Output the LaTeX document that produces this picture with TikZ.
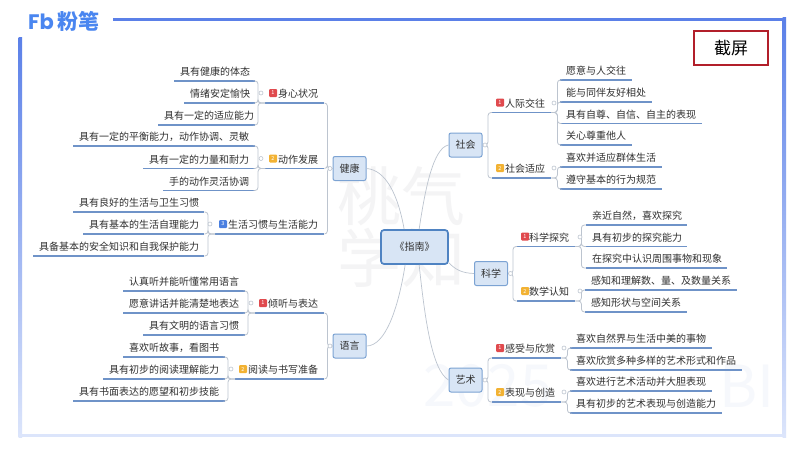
\documentclass[tikz,border=0pt]{standalone}
\usepackage{fontspec}
\setmainfont{Noto Sans CJK SC}
\newfontfamily\logolat{Poppins}
\usetikzlibrary{calc}
\newcommand{\fwc}{\char"FF0C\relax}
\definecolor{txt}{HTML}{303030}
\definecolor{frameblue}{HTML}{5B80E8}
\definecolor{framelight}{HTML}{DCE5FB}
\definecolor{logob}{HTML}{4A86F0}
\definecolor{ul}{HTML}{6F93C8}
\definecolor{conn}{HTML}{BCC4CF}
\definecolor{boxfill}{HTML}{D8E5F5}
\definecolor{boxline}{HTML}{7CA3D3}
\definecolor{ctrline}{HTML}{4F83C2}
\definecolor{shotred}{HTML}{B21F2A}
\definecolor{wmk}{HTML}{F4F4F5}
\definecolor{wmkb}{HTML}{F6F8FC}
\definecolor{icr}{HTML}{E04A4E}
\definecolor{ico}{HTML}{F2B233}
\definecolor{icb}{HTML}{4A7FE0}
\tikzset{
 x=1pt,y=-1pt,
 every node/.style={font=\fontsize{10}{12}\selectfont,text=txt},
 leaf/.style={inner xsep=6pt,inner ysep=3pt,text height=9pt,text depth=2pt,anchor=south west},
 uline/.style={draw=ul,line width=1.1pt},
 cline/.style={draw=conn,line width=0.7pt},
 bracket/.style={draw=conn,line width=0.8pt,rounded corners=3pt},
 iconbox/.style={fill=#1,rounded corners=1pt,minimum size=8pt,inner sep=0pt,font=\fontsize{5.5}{6}\selectfont,text=white},
 dotmark/.style={circle,draw=conn,fill=white,line width=0.6pt,minimum size=4pt,inner sep=0pt},
 mainbox/.style={draw=boxline,fill=boxfill,line width=1pt,rounded corners=2pt,minimum width=33pt,minimum height=24pt,inner sep=0pt},
 centerbox/.style={draw=ctrline,fill=boxfill,line width=1.7pt,rounded corners=3pt,minimum width=67pt,minimum height=34pt,inner sep=0pt},
}
\newcommand{\leafL}[5]{\pgfmathsetmacro\tw{#3-#2-12}\node[leaf,text width=\tw pt,align=right] (#1) at (#2,#4) {#5};\draw[uline] (#1.south west) -- (#1.south east);}
\newcommand{\leafR}[5]{\pgfmathsetmacro\tw{#3-#2-12}\node[leaf,text width=\tw pt,align=left] (#1) at (#2,#4) {#5};\draw[uline] (#1.south west) -- (#1.south east);}
\newcommand{\grp}[7]{\leafL{#1}{#2}{#3}{#4}{#5}\node[iconbox=#6] (#1i) at ($(#1.south west)+(8,-10)$) {#7};}
\newcommand{\brL}[2]{\draw[bracket] (#1.south west) -- ($(#1.south west)+(-7,0)$) |- (#2.south east);}
\newcommand{\brR}[2]{\draw[bracket] (#1.south east) -- ($(#1.south east)+(6,0)$) |- (#2.south west);}
\newcommand{\tolL}[2]{\draw[bracket] (#1.south east) -- ($(#1.south east)+(3,0)$) |- (#2.west);}
\newcommand{\toR}[2]{\draw[bracket] (#1.south west) -- ($(#1.south west)+(-4,0)$) |- (#2.east);}
\begin{document}
\begin{tikzpicture}
\useasboundingbox (0,0) rectangle (800,450);
\fill[white] (0,0) rectangle (800,450);
% watermark
\node[font=\fontsize{64}{64}\selectfont,text=wmk] (wm1) at (401,196) {桃气};
\node[font=\fontsize{64}{64}\selectfont,text=wmk] (wm2) at (401,258) {学知};
\node[font=\fontsize{58}{58}\selectfont,text=wmkb,anchor=west] (wm3) at (420,386) {2025};
\node[font=\fontsize{58}{58}\selectfont,text=wmkb,anchor=east] (wm4) at (778,386) {BI};
% frame
\fill[frameblue] (113,17.5) rectangle (786,21);
\shade[top color=frameblue,bottom color=framelight] (782.5,17.5) rectangle (786,437);
\shade[top color=frameblue,bottom color=framelight] (18.5,37) rectangle (22,437);
\fill[framelight] (18.5,434) rectangle (786,437);
% logo
\node[font=\fontsize{21}{21}\selectfont\logolat\bfseries,text=logob,anchor=west,inner sep=0pt] (lg1) at (28,21.5) {Fb};
\node[font=\fontsize{21}{21}\selectfont\bfseries,text=logob,anchor=west,inner sep=0pt] (lg2) at (57,21.5) {粉笔};
% screenshot box
\node[draw=shotred,line width=1.5pt,fill=white,minimum width=74pt,minimum height=34pt,inner sep=0pt,font=\fontsize{17}{18}\selectfont,text=black] (shot) at (731,48) {截屏};
% main nodes
\node[centerbox] (ctr) at (414.5,247) {《指南》};
\node[mainbox] (jk) at (349.5,168.5) {健康};
\node[mainbox] (yy) at (349.5,346) {语言};
\node[mainbox] (sh) at (465.5,145) {社会};
\node[mainbox] (kx) at (491,273.5) {科学};
\node[mainbox] (ys) at (465.5,380) {艺术};
% left groups
\grp{g1}{265}{324}{103}{身心状况}{icr}{1}
\leafL{a1}{174}{255}{81}{具有健康的体态}
\leafL{a2}{184}{255}{103}{情绪安定愉快}
\leafL{a3}{158}{255}{125}{具有一定的适应能力}
\grp{g2}{265}{324}{168.5}{动作发展}{ico}{2}
\leafL{b1}{73}{255}{146}{具有一定的平衡能力\fwc 动作协调、灵敏}
\leafL{b2}{143}{255}{168.5}{具有一定的力量和耐力}
\leafL{b3}{163}{255}{190.5}{手的动作灵活协调}
\grp{g3}{215}{324}{234}{生活习惯与生活能力}{icb}{3}
\leafL{c1}{73}{204}{212}{具有良好的生活与卫生习惯}
\leafL{c2}{83}{204}{234}{具有基本的生活自理能力}
\leafL{c3}{33}{204}{256}{具备基本的安全知识和自我保护能力}
\grp{g4}{255}{324}{313}{倾听与表达}{icr}{1}
\leafL{d1}{123}{245}{291}{认真听并能听懂常用语言}
\leafL{d2}{123}{245}{313}{愿意讲话并能清楚地表达}
\leafL{d3}{143}{245}{335}{具有文明的语言习惯}
\grp{g5}{235}{324}{379}{阅读与书写准备}{ico}{2}
\leafL{e1}{123}{225}{357}{喜欢听故事\fwc 看图书}
\leafL{e2}{103}{225}{379}{具有初步的阅读理解能力}
\leafL{e3}{73}{225}{401}{具有书面表达的愿望和初步技能}
% right groups
\grp{g6}{492}{551}{112.5}{人际交往}{icr}{1}
\leafR{f1}{560}{632}{80}{愿意与人交往}
\leafR{f2}{560}{652}{102}{能与同伴友好相处}
\leafR{f3}{560}{702}{123.5}{具有自尊、自信、自主的表现}
\leafR{f4}{560}{632}{145}{关心尊重他人}
\grp{g7}{492}{551}{178}{社会适应}{ico}{2}
\leafR{h1}{560}{662}{167}{喜欢并适应群体生活}
\leafR{h2}{560}{662}{189}{遵守基本的行为规范}
\grp{g8}{517}{575}{246.5}{科学探究}{icr}{1}
\leafR{i1}{586}{687}{225}{亲近自然\fwc 喜欢探究}
\leafR{i2}{586}{687}{246.5}{具有初步的探究能力}
\leafR{i3}{586}{727}{268}{在探究中认识周围事物和现象}
\grp{g9}{517}{575}{301}{数学认知}{ico}{2}
\leafR{j1}{585}{737}{290}{感知和理解数、量、及数量关系}
\leafR{j2}{585}{687}{312}{感知形状与空间关系}
\grp{g10}{492}{561}{358}{感受与欣赏}{icr}{1}
\leafR{k1}{570}{712}{348}{喜欢自然界与生活中美的事物}
\leafR{k2}{570}{742}{370}{喜欢欣赏多种多样的艺术形式和作品}
\grp{g11}{492}{561}{402}{表现与创造}{ico}{2}
\leafR{l1}{570}{712}{391}{喜欢进行艺术活动并大胆表现}
\leafR{l2}{570}{722}{413}{具有初步的艺术表现与创造能力}
% group to leaf
\foreach \g/\l in {g1/a1,g1/a2,g1/a3,g2/b1,g2/b2,g2/b3,g3/c1,g3/c2,g3/c3,g4/d1,g4/d2,g4/d3,g5/e1,g5/e2,g5/e3}{\brL{\g}{\l}}
\foreach \g/\l in {g6/f1,g6/f2,g6/f3,g6/f4,g7/h1,g7/h2,g8/i1,g8/i2,g8/i3,g9/j1,g9/j2,g10/k1,g10/k2,g11/l1,g11/l2}{\brR{\g}{\l}}
% main to group
\foreach \g/\m in {g1/jk,g2/jk,g3/jk,g4/yy,g5/yy}{\tolL{\g}{\m}}
\foreach \g/\m in {g6/sh,g7/sh,g8/kx,g9/kx,g10/ys,g11/ys}{\toR{\g}{\m}}
% centre to main
\draw[cline] ($(ctr.north west)+(24,0)$) .. controls (398,195) and (386,170) .. (jk.east);
\draw[cline] ($(ctr.north west)+(39,0)$) .. controls (425,190) and (433,148) .. (sh.west);
\draw[cline] ($(ctr.south east)+(0,-2)$) .. controls (456,270) and (462,273) .. (kx.west);
\draw[cline] ($(ctr.south west)+(25,0)$) .. controls (398,310) and (385,346) .. (yy.east);
\draw[cline] ($(ctr.south west)+(39,0)$) .. controls (425,320) and (432,370) .. (ys.west);
% dots
\foreach \n/\x/\y in {p1/261/93,p2/261/158.5,p3/210/224,p4/251/303,p5/231/369,p6/554/103,p7/554/168,p8/580/237,p9/580/291,p10/564/348,p11/564/392,p12/330/168.5,p13/330/346,p14/485/145,p15/510.5/273.5,p16/485/380}{\node[dotmark] (\n) at (\x,\y) {};}
\end{tikzpicture}
\end{document}
